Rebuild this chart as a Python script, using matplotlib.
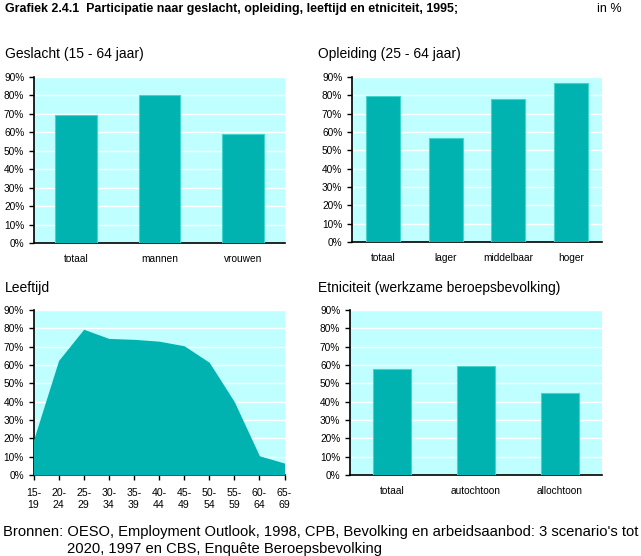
import numpy as np
import matplotlib.pyplot as plt
from matplotlib.ticker import PercentFormatter

plt.rcParams['font.family'] = ['Liberation Sans', 'DejaVu Sans']

# Data (participatie in %, 1995)
geslacht_cat = ['totaal', 'mannen', 'vrouwen']
geslacht_val = [69.5, 80.5, 59]

opleiding_cat = ['totaal', 'lager', 'middelbaar', 'hoger']
opleiding_val = [79.5, 56.5, 78, 86.5]

leeftijd_cat = ['15-\n19', '20-\n24', '25-\n29', '30-\n34', '35-\n39', '40-\n44',
                '45-\n49', '50-\n54', '55-\n59', '60-\n64', '65-\n69']
leeftijd_val = [19, 62.5, 79.5, 74.5, 74, 73, 70.5, 61.5, 40, 10.5, 6.5]

etniciteit_cat = ['totaal', 'autochtoon', 'allochtoon']
etniciteit_val = [58, 59.5, 44.5]

TEAL = '#00b3b0'
EDGE = '#40d6cc'
BG = '#c0ffff'

W, H = 641, 556
fig = plt.figure(figsize=(W / 100, H / 100), dpi=100)


def make_ax(x0, x1, ytop, ybot):
    ax = fig.add_axes([x0 / W, 1 - ybot / H, (x1 - x0) / W, (ybot - ytop) / H])
    ax.set_facecolor(BG)
    ax.set_ylim(0, 90)
    ax.set_yticks(np.arange(0, 91, 10))
    ax.yaxis.set_major_formatter(PercentFormatter(decimals=0))
    ax.grid(axis='y', color='white', linewidth=1)
    ax.set_axisbelow(True)
    for s in ['top', 'right']:
        ax.spines[s].set_visible(False)
    ax.spines['left'].set_linewidth(1.2)
    ax.spines['bottom'].set_linewidth(1.2)
    ax.tick_params(axis='y', labelsize=7.3, length=3.5, width=1, pad=3.5)
    ax.tick_params(axis='x', labelsize=7.3, length=0, pad=8)
    return ax


def bar_panel(ax, cats, vals, width):
    x = np.arange(len(cats))
    ax.bar(x, vals, width=width, color=TEAL, edgecolor=EDGE, linewidth=0.8, zorder=3)
    ax.set_xlim(-0.5, len(cats) - 0.5)
    ax.set_xticks(x)
    ax.set_xticklabels(cats)


ax1 = make_ax(34, 285, 77, 243)
bar_panel(ax1, geslacht_cat, geslacht_val, 0.5)

ax2 = make_ax(352, 602, 77, 242)
bar_panel(ax2, opleiding_cat, opleiding_val, 0.54)

ax3 = make_ax(33.5, 284.5, 310, 475)
xl = np.arange(len(leeftijd_cat))
ax3.fill_between(xl, leeftijd_val, 0, color=TEAL, linewidth=0, zorder=3)
ax3.set_xlim(0, len(leeftijd_cat) - 1)
ax3.set_xticks(xl)
ax3.set_xticklabels(leeftijd_cat, linespacing=1.2)
ax3.tick_params(axis='x', labelsize=7.6, length=3.5, width=1, pad=6)

ax4 = make_ax(350, 602, 310, 475)
bar_panel(ax4, etniciteit_cat, etniciteit_val, 0.46)

# Texts
fig.text(5 / W, 1 - 9 / H, 'Grafiek 2.4.1  Participatie naar geslacht, opleiding, leeftijd en etniciteit, 1995;',
         fontsize=8.9, fontweight='bold', va='center')
fig.text(597 / W, 1 - 9 / H, 'in %', fontsize=9, va='center')
fig.text(5 / W, 1 - 54 / H, 'Geslacht (15 - 64 jaar)', fontsize=10, va='center')
fig.text(318 / W, 1 - 54 / H, 'Opleiding (25 - 64 jaar)', fontsize=10, va='center')
fig.text(5 / W, 1 - 288 / H, 'Leeftijd', fontsize=10, va='center')
fig.text(318 / W, 1 - 288 / H, 'Etniciteit (werkzame beroepsbevolking)', fontsize=10, va='center')
fig.text(3 / W, 1 - 532 / H,
         "Bronnen: OESO, Employment Outlook, 1998, CPB, Bevolking en arbeidsaanbod: 3 scenario's tot",
         fontsize=10.6, va='center')
fig.text(67 / W, 1 - 549 / H, '2020, 1997 en CBS, Enquête Beroepsbevolking',
         fontsize=10.6, va='center')

fig.savefig('out.png', dpi=100, facecolor='white')
